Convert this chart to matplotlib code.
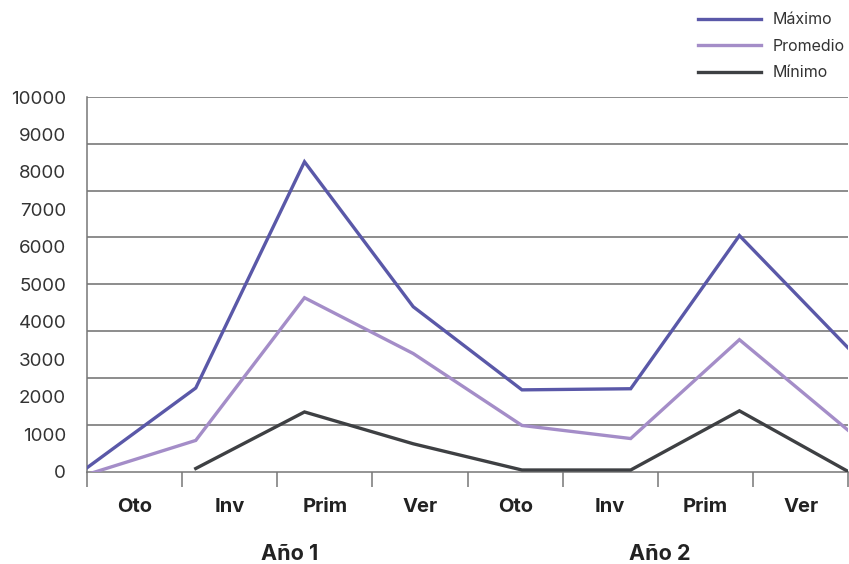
import numpy as np
import matplotlib.pyplot as plt
from matplotlib.ticker import FixedLocator, NullFormatter

plt.rcParams['font.family'] = ['Inter', 'DejaVu Sans']

temporadas = ["Oto", "Inv", "Prim", "Ver", "Oto", "Inv", "Prim", "Ver"]
anios = ["Año 1", "Año 2"]
maximo = [100, 2230, 8270, 4400, 2180, 2210, 6300, 3300]
promedio = [-80, 830, 4640, 3150, 1230, 880, 3520, 1100]
minimo = [None, 80, 1590, 740, 40, 40, 1620, 0]
yticks = np.arange(0, 10001, 1000)
grid_y = np.arange(1250, 10001, 1250)

fig = plt.figure(figsize=(8.49, 5.64), dpi=100)
ax = fig.add_axes([0.1025, 0.164, 0.8965, 0.664])

n = len(temporadas)
xs = np.linspace(0, n, n)

def serie(vals):
    return np.array([np.nan if v is None else v for v in vals], dtype=float)

ax.plot(xs, serie(maximo), color="#5a58a8", lw=2.4, label="Máximo", solid_joinstyle="miter", zorder=4)
ax.plot(xs, serie(promedio), color="#a48dc8", lw=2.4, label="Promedio", solid_joinstyle="miter", zorder=3)
ax.plot(xs, serie(minimo), color="#3e4043", lw=2.4, label="Mínimo", solid_joinstyle="miter", zorder=3)

for g in grid_y:
    ax.axhline(g, color="#6e6e6e", lw=1.1, zorder=1)

ax.set_xlim(0, n)
ax.set_ylim(0, 10000)
ax.set_yticks(yticks)
ax.set_yticklabels([str(v) for v in yticks], fontsize=13.5, color="#333333")
ax.tick_params(axis="y", length=0, pad=15)

ax.xaxis.set_major_locator(FixedLocator(np.arange(0, n + 1)))
ax.xaxis.set_major_formatter(NullFormatter())
ax.xaxis.set_minor_locator(FixedLocator(np.arange(n) + 0.5))
ax.set_xticklabels(temporadas, minor=True, fontsize=14.5, fontweight="bold", color="#222222")
ax.tick_params(axis="x", which="major", length=11, width=1.1, color="#777777")
ax.tick_params(axis="x", which="minor", length=0, pad=19)

for s in ["top", "right"]:
    ax.spines[s].set_visible(False)
for s in ["left", "bottom"]:
    ax.spines[s].set_color("#777777")
    ax.spines[s].set_linewidth(1.1)

for i, a in enumerate(anios):
    ax.text(2.13 + 3.89 * i, -2200, a, ha="center", va="center",
            fontsize=15.5, fontweight="bold", color="#222222")

fig.legend(loc="upper right", bbox_to_anchor=(1.012, 1.004), frameon=False,
           fontsize=11.5, handlelength=3.9, handletextpad=0.75, labelspacing=0.72,
           labelcolor="#333333")

plt.savefig("out.png", dpi=100)
